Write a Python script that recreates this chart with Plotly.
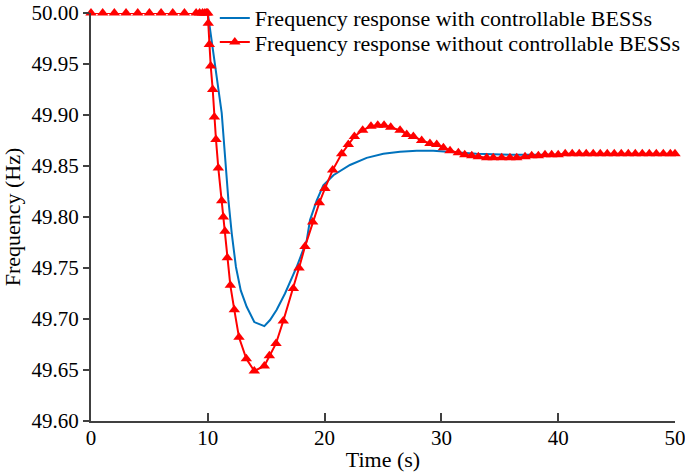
import plotly.graph_objects as go

# Frequency response with controllable BESSs (blue)
t_with = [0, 10.0, 11.19, 11.76, 12.05, 12.41, 12.82, 13.33, 13.98, 14.84, 15.33, 15.90,
          16.61, 17.61, 18.47, 18.75, 19.32, 19.89, 20.75, 22.17, 23.6, 25.03, 26.46,
          27.88, 29.3, 30.74, 33.0, 36.0, 40.0, 45.0, 50.0]
f_with = [50.0, 50.0, 49.902, 49.817, 49.784, 49.751, 49.728, 49.712, 49.697, 49.693, 49.699,
          49.709, 49.725, 49.751, 49.777, 49.797, 49.816, 49.831, 49.841, 49.851, 49.858,
          49.862, 49.864, 49.865, 49.865, 49.864, 49.862, 49.861, 49.861, 49.861, 49.861]

# Frequency response without controllable BESSs (red, triangles)
t_without = [0, 1, 2, 3, 4, 5, 6, 7, 8, 9, 9.3, 9.55, 9.75, 9.9, 10.0,
             10.04, 10.13, 10.25, 10.42, 10.56, 10.70, 10.90, 11.19, 11.33, 11.47, 11.67,
             11.93, 12.27, 12.67, 13.30, 13.98, 14.84, 15.27, 15.84, 16.46, 17.32, 17.81,
             18.32, 18.98, 19.55, 20.03, 20.69, 21.46, 22.03, 22.55, 23.26, 23.97, 24.55,
             25.09, 25.66, 26.46, 27.03, 27.6, 28.31, 29.02, 29.6, 30.17, 30.74, 31.45,
             32.0, 32.6, 33.16, 33.88, 34.44, 35.16, 35.87, 36.45, 37.16, 37.73, 38.3,
             38.87, 39.44, 40.0, 40.6, 41.2, 41.8, 42.4, 43.0, 43.6, 44.2, 44.8, 45.4,
             46.0, 46.6, 47.2, 47.8, 48.4, 49.0, 49.6, 50.0]
f_without = [50.0, 50.0, 50.0, 50.0, 50.0, 50.0, 50.0, 50.0, 50.0, 50.0, 50.0, 50.0, 50.0, 50.0, 50.0,
             49.990, 49.969, 49.948, 49.925, 49.898, 49.876, 49.848, 49.816, 49.800, 49.786, 49.760,
             49.733, 49.709, 49.682, 49.661, 49.649, 49.654, 49.664, 49.676, 49.698, 49.730, 49.750,
             49.771, 49.795, 49.814, 49.828, 49.846, 49.862, 49.871, 49.879, 49.885, 49.889, 49.890,
             49.890, 49.888, 49.885, 49.881, 49.879, 49.875, 49.872, 49.871, 49.868, 49.865, 49.863,
             49.861, 49.860, 49.859, 49.858, 49.858, 49.858, 49.858, 49.858, 49.859, 49.860, 49.860,
             49.861, 49.861, 49.861, 49.862, 49.862, 49.862, 49.862, 49.862, 49.862, 49.862, 49.862, 49.862,
             49.862, 49.862, 49.862, 49.862, 49.862, 49.862, 49.862, 49.862]

x_ticks = [0, 10, 20, 30, 40, 50]
y_ticks = [49.60, 49.65, 49.70, 49.75, 49.80, 49.85, 49.90, 49.95, 50.00]
y_tick_labels = ["49.60", "49.65", "49.70", "49.75", "49.80", "49.85", "49.90", "49.95", "50.00"]

FONT = "Liberation Serif, Times New Roman, serif"

fig = go.Figure()
fig.add_trace(go.Scatter(
    x=t_with, y=f_with, mode="lines",
    name="Frequency response with controllable BESSs",
    line=dict(color="#0072BD", width=2),
    legend="legend",
    cliponaxis=False,
))
fig.add_trace(go.Scatter(
    x=t_without, y=f_without, mode="lines+markers",
    name="Frequency response without controllable BESSs",
    line=dict(color="#FF0000", width=2),
    marker=dict(symbol="triangle-up", size=10, color="#FF0000"),
    legend="legend2",
    cliponaxis=False,
))

fig.update_layout(
    width=685, height=473,
    margin=dict(l=91, r=10, t=13, b=52, autoexpand=False),
    paper_bgcolor="white", plot_bgcolor="white",
    font=dict(family=FONT, size=21, color="#000000"),
    showlegend=True,
    legend=dict(x=0.212, y=1.039, xanchor="left", yanchor="top",
                bgcolor="rgba(0,0,0,0)", font=dict(size=22), itemwidth=30,
                tracegroupgap=0),
    legend2=dict(x=0.212, y=0.980, xanchor="left", yanchor="top",
                 bgcolor="rgba(0,0,0,0)", font=dict(size=22), itemwidth=30,
                 tracegroupgap=0),
    xaxis=dict(
        range=[0, 50], tickmode="array", tickvals=x_ticks,
        ticks="inside", ticklen=8, tickwidth=2, tickcolor="#404040",
        showline=True, linecolor="#404040", linewidth=2,
        showgrid=False, zeroline=False, mirror=False, automargin=False,
        ticklabeloverflow="allow", ticklabelstandoff=-3,
        title=dict(text="Time (s)", standoff=2, font=dict(size=22)),
        tickfont=dict(size=21),
    ),
    yaxis=dict(
        range=[49.60, 50.00], tickmode="array", tickvals=y_ticks, ticktext=y_tick_labels,
        ticks="outside", ticklen=6, tickwidth=2, tickcolor="#404040",
        showline=True, linecolor="#404040", linewidth=2,
        showgrid=False, zeroline=False, mirror=False, automargin=False,
        ticklabeloverflow="allow",
        title=dict(text="Frequency (Hz)", standoff=9, font=dict(size=22)),
        tickfont=dict(size=21),
    ),
)

fig.write_html("out.html", config={"displayModeBar": False},
               post_script="document.body.style.margin='0';document.body.style.overflow='hidden';")
